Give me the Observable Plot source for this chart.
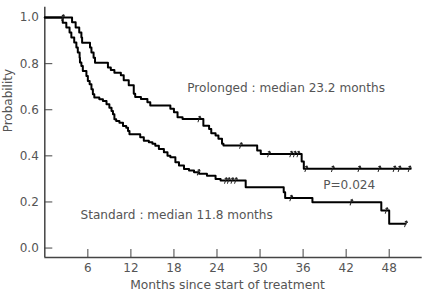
<!DOCTYPE html>
<html>
<head>
<meta charset="utf-8">
<script src="https://cdn.jsdelivr.net/npm/d3@7"></script>
<script src="https://cdn.jsdelivr.net/npm/@observablehq/plot@0.6"></script>
<style>
  html, body { margin: 0; padding: 0; background: #fff; }
  svg { display: block; }
</style>
</head>
<body>
<div id="chart"></div>
<script>
// Kaplan–Meier estimates: time (months) at which the survival step occurs, and the value after it.
const prolongedTime = [0, 3.8, 4.3, 4.8, 5.1, 5.2, 6.3, 6.5, 6.8, 7.0, 8.8, 9.2, 9.7, 10.6, 11.0, 11.7, 12.4, 12.6, 13.4, 14.3, 14.7, 17.5, 18.0, 18.5, 19.2, 22.1, 22.9, 23.2, 23.8, 24.2, 24.7, 24.9, 29.6, 30.1, 35.8, 36.1, 51.0];
const prolongedSurv = [1.0, 0.980, 0.957, 0.935, 0.913, 0.891, 0.870, 0.848, 0.826, 0.804, 0.783, 0.772, 0.761, 0.750, 0.728, 0.706, 0.670, 0.655, 0.647, 0.633, 0.618, 0.604, 0.589, 0.567, 0.560, 0.531, 0.517, 0.498, 0.488, 0.474, 0.452, 0.445, 0.423, 0.408, 0.376, 0.344, 0.344];
const prolongedCensored = [2.5, 21.5, 27.3, 31.2, 34.3, 34.8, 35.3, 36.4, 40.1, 43.8, 46.6, 48.7, 49.4, 50.8];

const standardTime = [0, 2.5, 3.0, 3.45, 3.7, 4.1, 4.4, 4.6, 4.85, 4.9, 5.1, 5.3, 5.8, 6.0, 6.25, 6.5, 6.7, 6.9, 7.6, 8.1, 8.6, 9.0, 9.3, 9.5, 9.7, 9.95, 10.4, 10.9, 11.35, 11.6, 11.8, 13.3, 13.8, 14.5, 15.0, 15.4, 15.9, 16.6, 17.1, 17.5, 18.2, 18.7, 19.4, 20.1, 20.8, 21.5, 22.6, 23.8, 24.5, 28.0, 33.3, 33.5, 37.3, 46.9, 48.0, 50.3];
const standardSurv = [1.0, 0.978, 0.957, 0.935, 0.913, 0.892, 0.870, 0.848, 0.826, 0.805, 0.790, 0.768, 0.747, 0.725, 0.711, 0.689, 0.667, 0.653, 0.646, 0.638, 0.624, 0.609, 0.595, 0.580, 0.559, 0.551, 0.544, 0.530, 0.522, 0.508, 0.494, 0.481, 0.466, 0.459, 0.452, 0.444, 0.430, 0.416, 0.401, 0.394, 0.372, 0.358, 0.343, 0.336, 0.329, 0.322, 0.314, 0.300, 0.293, 0.264, 0.242, 0.217, 0.199, 0.163, 0.105, 0.105];
const standardCensored = [21.4, 25.2, 25.6, 26.1, 26.6, 34.3, 42.7, 47.6, 50.3];

const xTicks = [6, 12, 18, 24, 30, 36, 42, 48];
const yTicks = [0, 0.2, 0.4, 0.6, 0.8, 1.0];

const labels = {
  prolonged: "Prolonged : median 23.2 months",
  standard: "Standard : median 11.8 months",
  pValue: "P=0.024",
  xTitle: "Months since start of treatment",
  yTitle: "Probability"
};

const xDomain = [0, 52.6];
const yDomain = [-0.041, 1.045];

function curve(times, surv) {
  return times.map((t, i) => ({t, s: surv[i]}));
}
function survivalAt(times, surv, t) {
  let v = surv[0];
  for (let i = 0; i < times.length; i++) if (times[i] <= t) v = surv[i];
  return v;
}
function censorPoints(censored, times, surv) {
  return censored.map(t => ({t, s: survivalAt(times, surv, t)}));
}

const prolonged = curve(prolongedTime, prolongedSurv);
const standard = curve(standardTime, standardSurv);
const censors = [
  ...censorPoints(prolongedCensored, prolongedTime, prolongedSurv),
  ...censorPoints(standardCensored, standardTime, standardSurv)
];

const textColor = "#555";
const axisColor = "#444";

const chart = Plot.plot({
  width: 429,
  height: 293,
  marginLeft: 44.3,
  marginRight: 7.3,
  marginTop: 6.7,
  marginBottom: 36,
  style: {fontFamily: "'DejaVu Sans', sans-serif", fontSize: "12px", color: textColor, background: "#fff"},
  x: {domain: xDomain},
  y: {domain: yDomain},
  marks: [
    Plot.axisX(xTicks, {tickSize: -8, tickPadding: 14, stroke: axisColor, fill: textColor, label: null, tickFormat: d => String(d)}),
    Plot.axisY(yTicks, {tickSize: -8, tickPadding: 14, stroke: axisColor, fill: textColor, label: null, tickFormat: d => d.toFixed(1)}),
    Plot.ruleX([xDomain[0]], {stroke: axisColor, strokeWidth: 1.5}),
    Plot.ruleY([yDomain[0]], {stroke: axisColor, strokeWidth: 1.5}),
    Plot.line(prolonged, {x: "t", y: "s", curve: "step-after", stroke: "#000", strokeWidth: 2}),
    Plot.line(standard, {x: "t", y: "s", curve: "step-after", stroke: "#000", strokeWidth: 2}),
    Plot.vector(censors, {x: "t", y: "s", length: 6, rotate: 20, anchor: "middle", stroke: "#222", strokeWidth: 1}),
    Plot.text([labels.prolonged], {x: 19.86, y: 0.695, textAnchor: "start", fill: textColor, fontSize: 12.1}),
    Plot.text([labels.standard], {x: 4.98, y: 0.141, textAnchor: "start", fill: textColor, fontSize: 12.1}),
    Plot.text([labels.pValue], {x: 38.8, y: 0.271, textAnchor: "start", fill: textColor, fontSize: 12.1}),
    Plot.text([labels.xTitle], {frameAnchor: "bottom", dy: 31, dx: -6, fill: textColor, fontSize: 12.3}),
    Plot.text([labels.yTitle], {frameAnchor: "left", dx: -37, rotate: -90, fill: textColor, fontSize: 12})
  ]
});

document.getElementById("chart").appendChild(chart);
</script>
</body>
</html>
